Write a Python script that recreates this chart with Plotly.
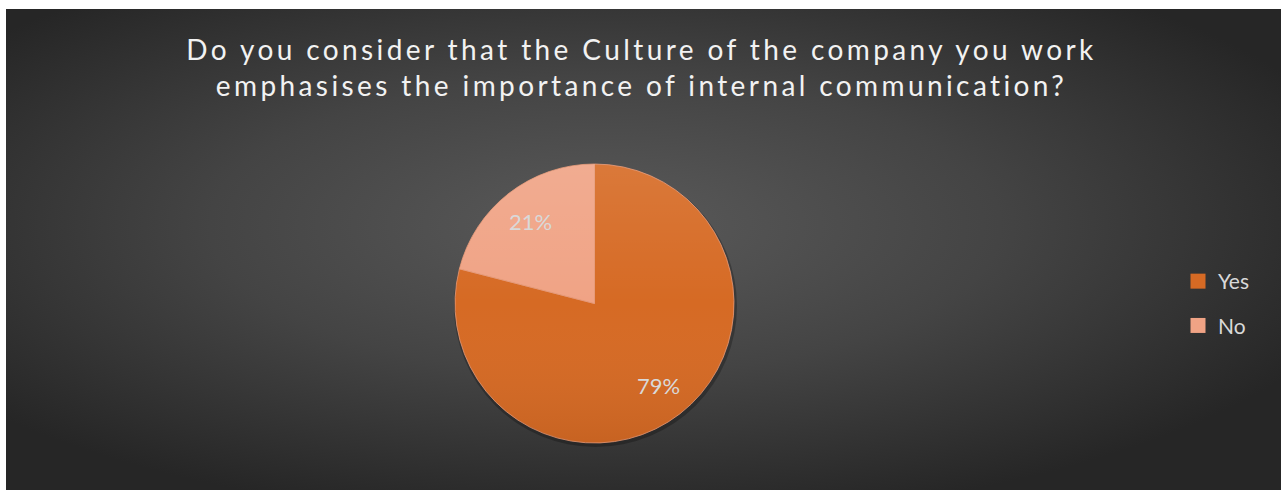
import base64
import math
import plotly.graph_objects as go

# Survey answers
categories = ["Yes", "No"]
shares = [79, 21]
slice_colors = ["#D66A24", "#F0A385"]

title_lines = [
    "Do you consider that the Culture of the company you work",
    "emphasises the importance of internal communication?",
]

W, H = 1283, 491
# dark chart area inside the white page
left, top, right, bottom = 6, 9, 1281, 490


def svg_uri(svg):
    return "data:image/svg+xml;base64," + base64.b64encode(svg.encode()).decode()


# radial-gradient backdrop
bw, bh = right - left, bottom - top
bg_uri = svg_uri(
    f'<svg xmlns="http://www.w3.org/2000/svg" width="{bw}" height="{bh}" '
    f'viewBox="0 0 {bw} {bh}" preserveAspectRatio="none">'
    '<defs><radialGradient id="g" cx="0.47" cy="0.45" r="0.62">'
    '<stop offset="0" stop-color="rgb(90,90,90)"/>'
    '<stop offset="0.5" stop-color="rgb(68,68,68)"/>'
    '<stop offset="1" stop-color="rgb(38,38,38)"/>'
    '</radialGradient></defs>'
    f'<rect x="0" y="0" width="{bw}" height="{bh}" fill="url(#g)"/></svg>'
)

# pie placement (pixels)
cx, cy, r = 594.5, 303.5, 139.5

# vertical sheen laid over the pie: lighter top, darker bottom
d = int(2 * r)
sheen_uri = svg_uri(
    f'<svg xmlns="http://www.w3.org/2000/svg" width="{d}" height="{d}" viewBox="0 0 {d} {d}">'
    '<defs><linearGradient id="s" x1="0" y1="0" x2="0" y2="1">'
    '<stop offset="0" stop-color="rgb(255,255,255)" stop-opacity="0.10"/>'
    '<stop offset="0.5" stop-color="rgb(255,255,255)" stop-opacity="0"/>'
    '<stop offset="1" stop-color="rgb(0,0,0)" stop-opacity="0.07"/>'
    '</linearGradient></defs>'
    f'<circle cx="{r}" cy="{r}" r="{r}" fill="url(#s)"/></svg>'
)

fig = go.Figure()
fig.add_trace(go.Pie(
    labels=categories,
    values=shares,
    sort=False,
    direction="clockwise",
    rotation=0,
    marker=dict(colors=slice_colors, line=dict(color="#E89A78", width=0.8)),
    textinfo="none",
    showlegend=False,
    hoverinfo="label+percent",
    domain=dict(x=[(cx - r) / W, (cx + r) / W], y=[1 - (cy + r) / H, 1 - (cy - r) / H]),
))

# legend entries, one per category
for name, col in zip(categories, slice_colors):
    fig.add_trace(go.Scatter(
        x=[None], y=[None], mode="markers", name=name, legendgroup=name,
        marker=dict(symbol="square", size=15, color=col),
    ))

# percentage labels on each slice's bisector
total = sum(shares)
annotations = []
start = 0.0
for v in shares:
    mid = (start + v / 2) / total * 2 * math.pi  # clockwise from 12 o'clock
    start += v
    px = cx + 0.745 * r * math.sin(mid)
    py = cy - 0.745 * r * math.cos(mid)
    annotations.append(dict(
        x=px / W, y=1 - py / H, xref="paper", yref="paper",
        text=f"{round(v / total * 100)}%", showarrow=False,
        xanchor="center", yanchor="middle",
        font=dict(family="Lato", size=22, color="#D9D9D9"),
    ))

fig.update_layout(
    width=W, height=H,
    margin=dict(l=0, r=0, t=0, b=0),
    paper_bgcolor="white",
    plot_bgcolor="rgba(0,0,0,0)",
    xaxis=dict(visible=False),
    yaxis=dict(visible=False),
    title=dict(
        text="<br>".join(title_lines),
        x=0.5, xanchor="center", xref="paper",
        y=1 - 60 / H, yanchor="top", yref="container",
        font=dict(family="Lato", size=28, color="#F2F2F2"),
    ),
    legend=dict(
        x=1178 / W, y=1 - 261 / H, xanchor="left", yanchor="top",
        bgcolor="rgba(0,0,0,0)", tracegroupgap=14,
        font=dict(family="Lato", size=21, color="#D9D9D9"),
    ),
    annotations=annotations,
    images=[
        dict(source=bg_uri, xref="paper", yref="paper",
             x=left / W, y=1 - top / H, sizex=bw / W, sizey=bh / H,
             xanchor="left", yanchor="top", sizing="stretch", layer="below"),
        dict(source=sheen_uri, xref="paper", yref="paper",
             x=(cx - r) / W, y=1 - (cy - r) / H, sizex=2 * r / W, sizey=2 * r / H,
             xanchor="left", yanchor="top", sizing="stretch", layer="above"),
    ],
    shapes=[
        # soft shadow under the pie
        dict(type="circle", xref="paper", yref="paper", layer="below",
             x0=(cx - r - 1) / W, x1=(cx + r + 3) / W,
             y0=1 - (cy + r + 4) / H, y1=1 - (cy - r + 1) / H,
             fillcolor="rgba(0,0,0,0.25)", line=dict(width=0)),
    ],
)

post = """
document.querySelectorAll('.gtitle').forEach(function(e){ e.style.letterSpacing = '3.4px'; });
"""
fig.write_html("out.html", post_script=post)
